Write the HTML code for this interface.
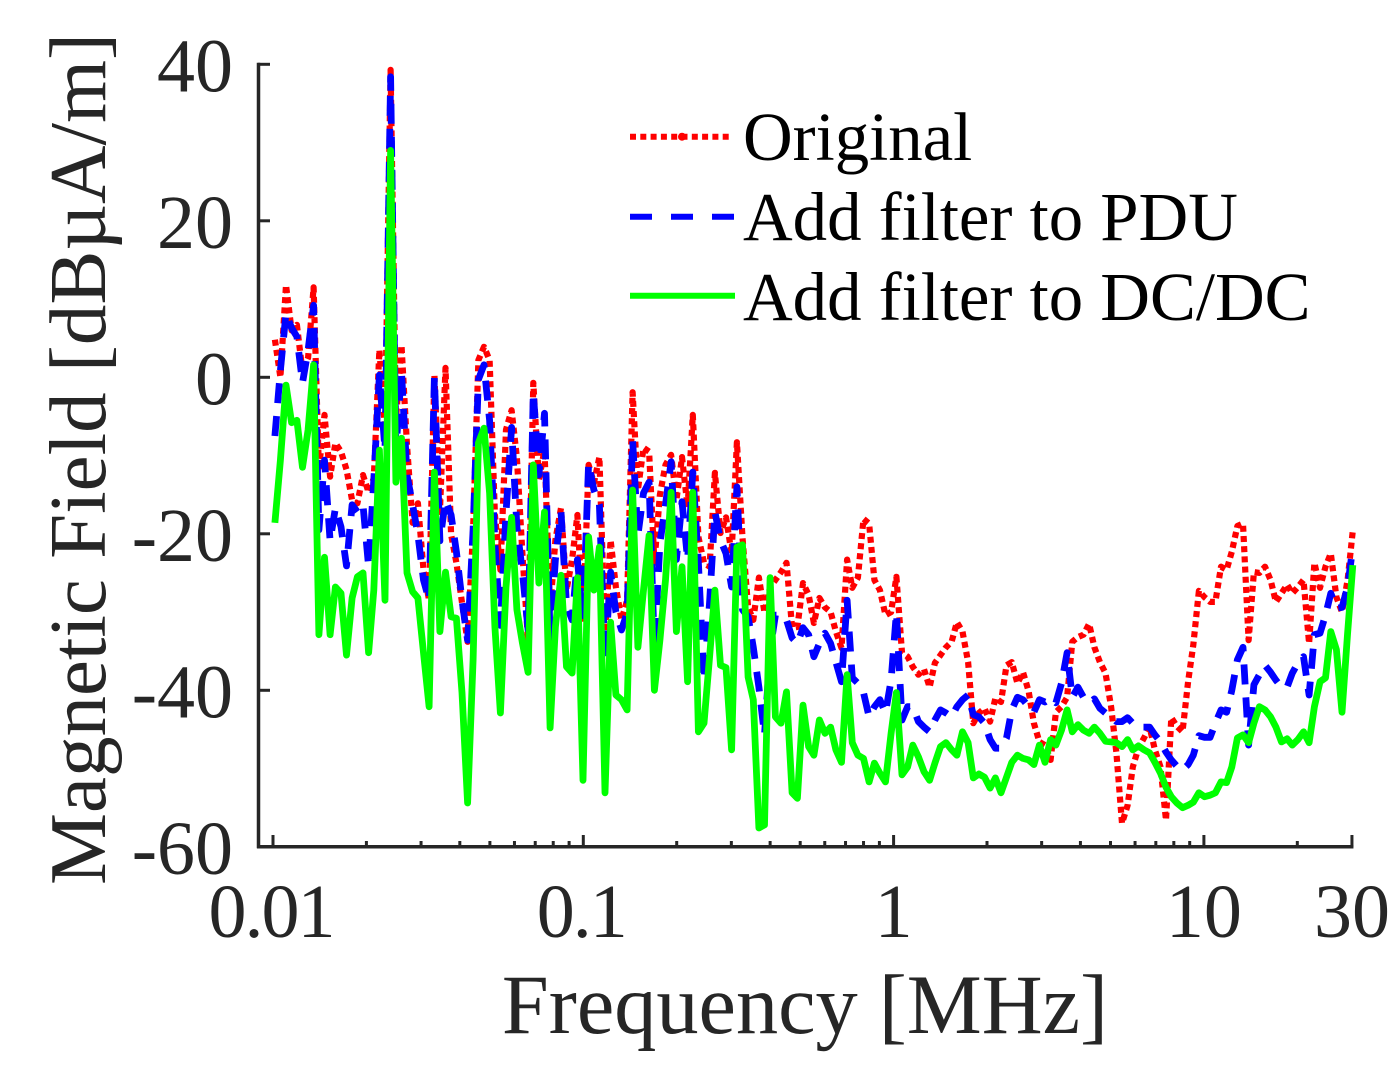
<!DOCTYPE html>
<html lang="en">
<head>
<meta charset="utf-8">
<title>Magnetic field versus frequency</title>
<style>
html,body{margin:0;padding:0;background:#fff;width:1397px;height:1087px;overflow:hidden}
svg{display:block}
text{font-family:"Liberation Serif",serif}
</style>
</head>
<body>
<svg id="chart" xmlns="http://www.w3.org/2000/svg" width="1397" height="1087" viewBox="0 0 1397 1087">
  <g id="ticks"></g>
  <g id="series"></g>
  <g id="axes"></g>
  <g id="tick-labels"></g>
  <text x="805" y="1033" text-anchor="middle" font-size="84.3" fill="#262626">Frequency [MHz]</text>
  <text transform="translate(105,459) rotate(-90)" text-anchor="middle" font-size="81" fill="#262626">Magnetic Field [dBµA/m]</text>
  <g>
    <g>
      <line x1="630" y1="136.7" x2="730" y2="136.7" stroke="#ff0000" stroke-width="6" stroke-dasharray="6 4.3"></line>
      <circle cx="682" cy="136.7" r="4" fill="#ff0000"></circle>
      <text x="743" y="160" font-size="68.8" fill="#000">Original</text>
    </g>
    <g>
      <line x1="630" y1="216.7" x2="735" y2="216.7" stroke="#0000ff" stroke-width="6" stroke-dasharray="22 19"></line>
      <text x="743" y="240" font-size="68.8" fill="#000">Add filter to PDU</text>
    </g>
    <g>
      <line x1="630" y1="295.7" x2="735" y2="295.7" stroke="#00ff00" stroke-width="6"></line>
      <text x="743" y="320" font-size="68.8" fill="#000">Add filter to DC/DC</text>
    </g>
  </g>
</svg>
<script>
// log10 of frequency in MHz, shared by all three sweeps
const logFreqMHz = [
-1.994,-1.976,-1.958,-1.940,-1.923,-1.905,-1.887,-1.869,-1.852,-1.834,-1.816,-1.799,-1.781,-1.763,-1.745,-1.728,-1.710,-1.692,-1.675,-1.657,
-1.639,-1.621,-1.604,-1.586,-1.568,-1.550,-1.533,-1.515,-1.497,-1.480,-1.462,-1.444,-1.426,-1.409,-1.391,-1.373,-1.355,-1.338,-1.320,-1.302,
-1.285,-1.267,-1.249,-1.231,-1.214,-1.196,-1.178,-1.161,-1.143,-1.125,-1.107,-1.090,-1.072,-1.054,-1.036,-1.019,-1.001,-0.983,-0.966,-0.948,
-0.930,-0.912,-0.895,-0.877,-0.859,-0.841,-0.824,-0.806,-0.788,-0.771,-0.753,-0.735,-0.717,-0.700,-0.682,-0.664,-0.647,-0.629,-0.611,-0.593,
-0.576,-0.558,-0.540,-0.522,-0.505,-0.487,-0.469,-0.452,-0.434,-0.416,-0.398,-0.381,-0.363,-0.345,-0.327,-0.310,-0.292,-0.274,-0.257,-0.239,
-0.221,-0.203,-0.186,-0.168,-0.150,-0.133,-0.115,-0.097,-0.079,-0.062,-0.044,-0.026,-0.008,0.009,0.027,0.045,0.062,0.080,0.098,0.116,
0.133,0.151,0.169,0.187,0.204,0.222,0.240,0.257,0.275,0.293,0.311,0.328,0.346,0.364,0.381,0.399,0.417,0.435,0.452,0.470,
0.488,0.506,0.523,0.541,0.559,0.576,0.594,0.612,0.630,0.647,0.665,0.683,0.701,0.718,0.736,0.754,0.771,0.789,0.807,0.825,
0.842,0.860,0.878,0.895,0.913,0.931,0.949,0.966,0.984,1.002,1.020,1.037,1.055,1.073,1.090,1.108,1.126,1.144,1.161,1.179,
1.197,1.215,1.232,1.250,1.268,1.285,1.303,1.321,1.339,1.356,1.374,1.392,1.409,1.427,1.445,1.463,1.480];

const originalDb = [
4.8,0.0,11.8,6.0,6.7,0.7,2.5,11.5,-11.8,-4.8,-12.7,-8.4,-9.5,-11.8,-15.7,-16.1,-12.5,-14.7,-12.9,3.5,
-6.7,39.3,-5.5,4.1,-8.7,-18.6,-16.1,-24.6,-28.5,0.3,-17.2,1.2,-20.1,-23.7,-28.8,-33.8,-19.5,2.2,3.9,2.2,
-17.6,-24.6,-6.7,-4.2,-10.3,-22.7,-33.8,-0.7,-13.1,-9.3,-29.7,-20.8,-16.7,-27.2,-23.3,-17.6,-31.4,-11.2,-13.5,-10.2,
-33.2,-20.8,-26.8,-31.0,-28.5,-1.9,-14.4,-9.0,-9.5,-23.7,-15.0,-11.2,-9.9,-15.7,-10.2,-16.6,-4.8,-20.4,-23.7,-24.2,
-12.2,-19.9,-17.9,-22.5,-8.3,-20.5,-29.4,-31.0,-25.6,-30.1,-26.8,-25.9,-24.9,-23.7,-32.0,-31.9,-26.3,-27.8,-31.4,-28.2,
-29.4,-30.0,-32.5,-34.6,-23.3,-26.9,-25.6,-18.1,-18.7,-25.9,-27.2,-30.4,-30.0,-25.5,-35.2,-35.7,-37.0,-38.0,-37.3,-39.6,
-36.5,-35.5,-34.5,-33.8,-31.3,-32.5,-36.4,-44.2,-42.9,-42.3,-44.0,-41.0,-41.5,-36.8,-36.4,-39.1,-37.7,-40.1,-44.2,-46.6,
-47.0,-48.9,-42.8,-42.1,-40.9,-33.8,-33.2,-32.9,-31.5,-34.5,-36.4,-37.8,-42.1,-48.0,-57.0,-54.7,-49.8,-47.4,-46.1,-44.7,
-47.6,-49.8,-56.6,-43.5,-44.6,-45.3,-38.9,-34.2,-27.3,-28.1,-28.7,-28.7,-24.2,-24.6,-22.3,-19.0,-18.7,-33.6,-24.9,-25.0,
-24.2,-25.9,-28.7,-27.6,-26.5,-27.6,-26.8,-25.9,-34.0,-23.7,-26.9,-24.2,-22.5,-28.1,-30.0,-25.9,-19.6];

const filterPduDb = [
-7.5,0.9,8.2,6.3,5.2,-0.7,3.5,9.2,-19.5,-10.6,-20.9,-16.7,-19.1,-24.1,-16.3,-17.2,-16.3,-24.2,-13.1,0.3,
-9.3,38.4,-9.3,0.7,-12.5,-16.3,-20.1,-25.9,-28.5,0.0,-20.9,-15.7,-17.6,-22.3,-28.5,-33.6,-19.5,-0.3,1.6,-5.5,
-21.2,-31.7,-17.3,-6.4,-19.1,-25.0,-32.3,-1.9,-12.5,-4.6,-33.6,-23.3,-17.2,-29.1,-31.0,-23.3,-31.0,-11.0,-14.4,-16.3,
-36.1,-24.9,-30.0,-32.3,-30.1,-8.0,-20.2,-14.8,-13.4,-34.9,-21.2,-16.3,-10.8,-23.3,-15.9,-23.3,-12.1,-23.7,-38.7,-28.7,
-17.2,-20.8,-22.5,-26.8,-14.0,-29.7,-30.6,-34.5,-39.6,-45.7,-34.9,-30.4,-30.4,-31.0,-33.3,-34.0,-32.0,-32.9,-35.7,-34.0,
-32.7,-34.0,-36.4,-38.9,-28.5,-38.4,-39.1,-40.3,-43.4,-42.1,-41.2,-42.9,-38.7,-30.1,-43.8,-42.1,-42.1,-44.0,-44.7,-45.3,
-43.8,-42.5,-42.9,-43.4,-42.1,-41.2,-40.6,-43.1,-43.4,-44.2,-46.3,-47.4,-47.4,-46.1,-42.5,-40.9,-41.2,-42.1,-42.8,-41.2,
-41.5,-41.0,-41.6,-39.1,-35.2,-40.9,-39.6,-40.9,-41.6,-41.1,-42.3,-42.9,-43.4,-44.0,-44.0,-43.5,-44.2,-44.7,-44.7,-44.7,
-45.7,-46.6,-47.9,-48.9,-49.7,-50.2,-49.5,-48.3,-45.8,-46.0,-46.0,-44.2,-42.5,-42.8,-40.0,-36.1,-34.5,-47.0,-39.3,-38.0,
-36.8,-37.7,-38.7,-39.6,-39.6,-37.8,-36.5,-35.7,-40.6,-32.9,-32.7,-30.4,-27.6,-29.5,-29.4,-26.8,-21.7];

const filterDcdcDb = [
-18.6,-10.6,-1.0,-5.8,-5.5,-11.5,-6.7,1.6,-32.9,-23.0,-32.9,-26.8,-27.6,-35.5,-28.2,-25.5,-25.0,-35.2,-27.2,-9.3,
-28.5,29.0,-13.4,-7.8,-25.0,-27.4,-28.2,-35.2,-42.1,-12.1,-32.5,-24.9,-30.6,-30.8,-40.3,-54.4,-36.1,-8.4,-6.5,-14.8,
-31.9,-42.9,-26.8,-17.9,-29.7,-34.0,-37.7,-11.2,-26.3,-17.2,-44.8,-31.9,-25.3,-37.0,-37.8,-25.6,-51.5,-20.4,-27.2,-21.7,
-53.1,-31.3,-40.6,-41.2,-42.5,-14.4,-34.5,-27.2,-20.2,-40.0,-33.6,-25.9,-14.7,-32.5,-24.2,-38.9,-14.7,-45.3,-44.2,-35.7,
-27.2,-36.8,-37.1,-47.6,-21.7,-21.4,-38.3,-41.2,-57.6,-57.2,-25.6,-43.4,-44.2,-40.2,-53.1,-53.8,-41.9,-47.2,-48.3,-43.8,
-45.5,-44.7,-47.6,-49.2,-38.0,-46.7,-48.3,-48.7,-51.7,-49.3,-50.6,-51.7,-45.5,-40.3,-50.8,-49.8,-47.0,-48.5,-50.4,-51.5,
-49.3,-47.2,-46.7,-47.6,-48.3,-45.3,-46.7,-51.2,-50.7,-51.1,-52.5,-51.2,-53.1,-51.1,-49.2,-48.3,-48.7,-48.9,-49.5,-47.0,
-49.2,-46.3,-47.0,-45.1,-42.5,-45.3,-44.4,-45.1,-45.5,-44.7,-45.5,-46.5,-46.6,-46.7,-47.2,-46.3,-47.6,-47.1,-47.6,-48.0,
-49.2,-50.6,-52.4,-53.6,-54.4,-55.0,-54.7,-54.3,-53.1,-53.6,-53.4,-53.1,-51.7,-51.8,-49.8,-46.1,-45.7,-46.7,-44.2,-42.1,
-42.5,-43.4,-44.7,-46.6,-46.2,-47.0,-46.3,-45.3,-46.7,-42.1,-38.9,-38.4,-32.5,-34.8,-42.8,-32.7,-24.0];

const yTickValues = [40, 20, 0, -20, -40, -60];
const yTickLabels = ["40", "20", "0", "-20", "-40", "-60"];
const xMajorTicksMHz = [0.01, 0.1, 1, 10, 30];
const xMajorLabels = ["0.01", "0.1", "1", "10", "30"];
const xMinorTicksMHz = [0.02,0.03,0.04,0.05,0.06,0.07,0.08,0.09,0.2,0.3,0.4,0.5,0.6,0.7,0.8,0.9,2,3,4,5,6,7,8,9,20];

const SVGNS = "http://www.w3.org/2000/svg";
const INK = "#262626";
function xScale(logF) { return 273 + (logF + 2) * 310.3; }
function yScale(db) { return 377.3 - db * 7.825; }

function makeLine(parent, x1, y1, x2, y2, width) {
  const l = document.createElementNS(SVGNS, "line");
  l.setAttribute("x1", x1);
  l.setAttribute("y1", y1);
  l.setAttribute("x2", x2);
  l.setAttribute("y2", y2);
  l.setAttribute("stroke", INK);
  l.setAttribute("stroke-width", width);
  parent.appendChild(l);
  return l;
}
function makeLabel(parent, x, y, anchor, str) {
  const t = document.createElementNS(SVGNS, "text");
  t.setAttribute("x", x);
  t.setAttribute("y", y);
  t.setAttribute("text-anchor", anchor);
  t.setAttribute("font-size", "76");
  t.setAttribute("fill", INK);
  if (str.indexOf(".") >= 0) {
    t.setAttribute("letter-spacing", "-2");
    t.setAttribute("x", x - 2);
  }
  t.textContent = str;
  parent.appendChild(t);
  return t;
}
function makeSeries(values, color, width, dash, name) {
  let d = "";
  for (let i = 0; i < values.length; i++) {
    d += (i ? "L" : "M") + xScale(logFreqMHz[i]).toFixed(1) + " " + yScale(values[i]).toFixed(1);
  }
  const p = document.createElementNS(SVGNS, "path");
  p.setAttribute("d", d);
  p.setAttribute("fill", "none");
  p.setAttribute("stroke", color);
  p.setAttribute("stroke-width", width);
  p.setAttribute("stroke-linejoin", "round");
  if (dash) p.setAttribute("stroke-dasharray", dash);
  
  
  document.getElementById("series").appendChild(p);
}

const tickGroup = document.getElementById("ticks");
const labelGroup = document.getElementById("tick-labels");
const axesGroup = document.getElementById("axes");

yTickValues.forEach(function (v, i) {
  const y = yScale(v);
  const tick = makeLine(tickGroup, 258, y, 270, y, 3);
  
  
  const lab = makeLabel(labelGroup, 233, y + 27, "end", yTickLabels[i]);
  
  
});
xMajorTicksMHz.forEach(function (f, i) {
  const x = xScale(Math.log10(f));
  const tick = makeLine(tickGroup, x, 847, x, 835, 3);
  
  
  const lab = makeLabel(labelGroup, x, 937, "middle", xMajorLabels[i]);
  
  
});
xMinorTicksMHz.forEach(function (f) {
  const x = xScale(Math.log10(f));
  const tick = makeLine(tickGroup, x, 847, x, 841, 3);
  
  
});

makeSeries(originalDb, "#ff0000", 6.2, "6 4.2", "series-original");
makeSeries(filterPduDb, "#0000ff", 6.8, "20 13", "series-add-filter-to-pdu");
makeSeries(filterDcdcDb, "#00ff00", 6.8, "", "series-add-filter-to-dcdc");

const yAxisLine = makeLine(axesGroup, 258.5, yScale(40) - 1.5, 258.5, yScale(-60) + 1.5, 3.5);


const xAxisLine = makeLine(axesGroup, 257, yScale(-60), xScale(Math.log10(30)) + 1.5, yScale(-60), 3.5);


</script>
</body>
</html>
